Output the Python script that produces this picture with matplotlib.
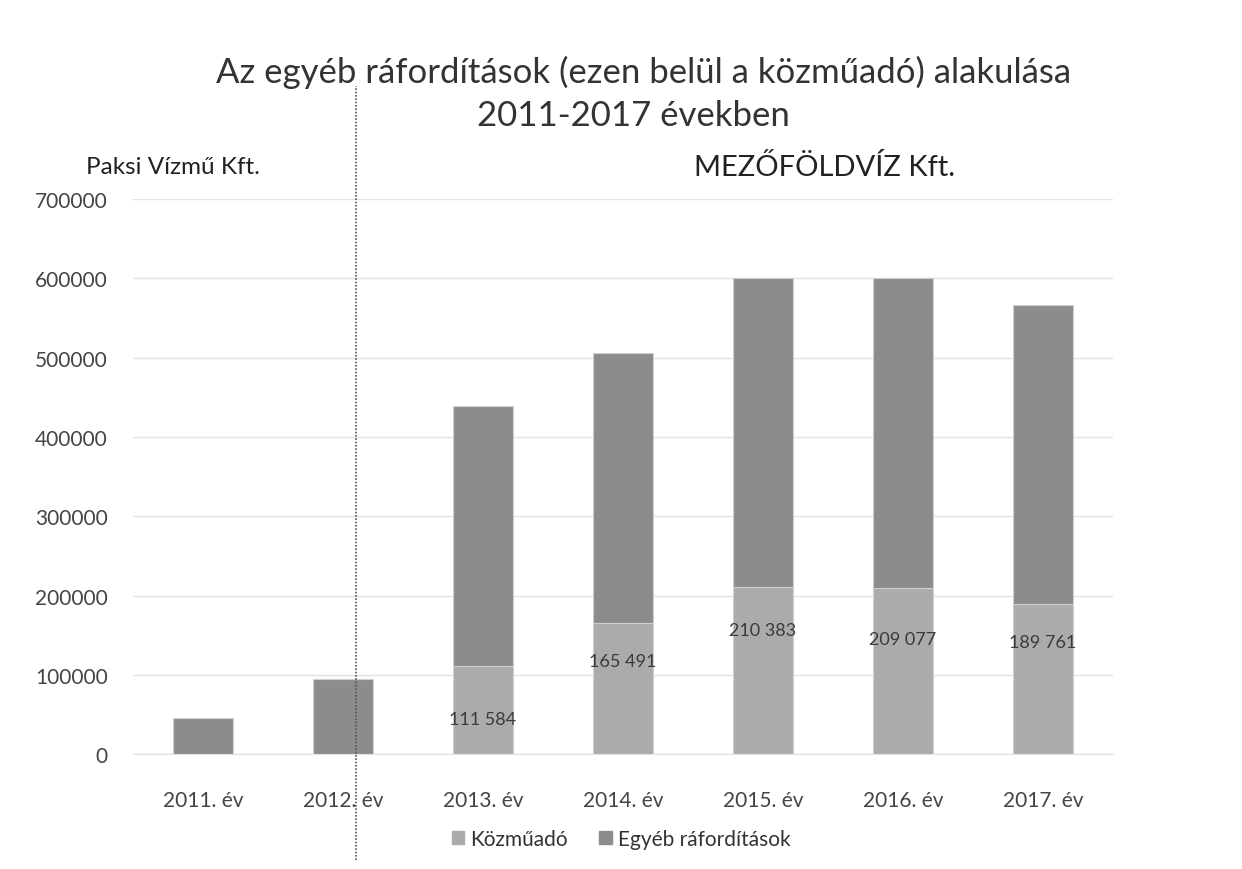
import matplotlib
matplotlib.use("Agg")
import matplotlib.pyplot as plt
from matplotlib.lines import Line2D
from matplotlib.patches import Patch

plt.rcParams['font.family'] = ['Lato', 'DejaVu Sans']

# adatok
years = ["2011. év", "2012. év", "2013. év", "2014. év", "2015. év", "2016. év", "2017. év"]
kozmuado = [0, 0, 111584, 165491, 210383, 209077, 189761]
egyeb = [45000, 95000, 328000, 340000, 390000, 392000, 377000]
kozmu_labels = ["", "", "111 584", "165 491", "210 383", "209 077", "189 761"]
label_y = [0, 0, 44000, 117000, 157000, 145000, 141000]

c_kozmu = "#ababab"
c_egyeb = "#8c8c8c"

fig = plt.figure(figsize=(12.42, 8.7), dpi=100)
ax = fig.add_axes([0.107, 0.132, 0.789, 0.638])

x = range(len(years))
ax.bar(x, kozmuado, width=0.43, color=c_kozmu, edgecolor="#d0d0d0", linewidth=0.8)
ax.bar(x, egyeb, width=0.43, bottom=kozmuado, color=c_egyeb, edgecolor="#d0d0d0", linewidth=0.8)

for i, txt in enumerate(kozmu_labels):
    if txt:
        ax.text(i, label_y[i], txt, ha="center", va="center", fontsize=13, color="#3a3a3a")

ax.set_ylim(0, 700000)
ax.set_xlim(-0.5, 6.5)
ax.set_yticks(range(0, 700001, 100000))
ax.set_yticklabels([str(v) for v in range(0, 700001, 100000)])
ax.set_xticks(list(x))
ax.set_xticklabels(years)
ax.tick_params(axis="both", length=0, labelsize=15, labelcolor="#444444")
ax.tick_params(axis="y", pad=18)
ax.tick_params(axis="x", pad=26)
ax.grid(axis="y", color="#e2e2e2", linewidth=1)
ax.set_axisbelow(True)
for s in ["top", "right", "left"]:
    ax.spines[s].set_visible(False)
ax.spines["bottom"].set_color("#e2e2e2")

fig.text(0.518, 0.917, "Az egyéb ráfordítások (ezen belül a közműadó) alakulása",
         ha="center", va="center", fontsize=25, color="#333333")
fig.text(0.51, 0.867, "2011-2017 években", ha="center", va="center", fontsize=25, color="#333333")
fig.text(0.139, 0.808, "Paksi Vízmű Kft.", ha="center", va="center", fontsize=17.5, color="#222222")
fig.text(0.664, 0.808, "MEZŐFÖLDVÍZ Kft.", ha="center", va="center", fontsize=21, color="#222222")

# elválasztó vonal
fig.add_artist(Line2D([0.287, 0.287], [0.01, 0.90], transform=fig.transFigure,
                      color="#555555", linestyle=(0, (1, 1)), linewidth=1.2))

handles = [Patch(color=c_kozmu, label="Közműadó"), Patch(color=c_egyeb, label="Egyéb ráfordítások")]
fig.legend(handles=handles, loc="center", bbox_to_anchor=(0.5, 0.035), ncol=2, frameon=False,
           fontsize=15, handlelength=0.6, handleheight=0.6, handletextpad=0.3, columnspacing=1.5,
           labelcolor="#333333")

fig.savefig("out.png", dpi=100, facecolor="white")
